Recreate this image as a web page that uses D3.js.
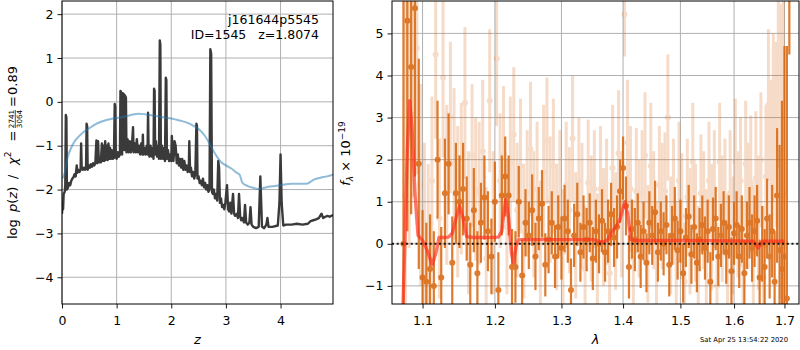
<!DOCTYPE html>
<html>
<head>
<meta charset="utf-8">
<script src="https://cdn.jsdelivr.net/npm/d3@7"></script>
<style>
  html, body { margin: 0; padding: 0; background: #fff; }
  svg { display: block; font-family: "DejaVu Sans", sans-serif; }
</style>
</head>
<body>
<svg id="fig" width="800" height="350"></svg>
<script>
// ---- redshift fit: log p(z) and chi^2 curve ----
const zPdf = [0.00,0.01,0.02,0.03,0.05,0.06,0.07,0.08,0.09,0.11,0.13,0.15,0.17,0.19,0.21,0.23,0.25,0.27,0.28,0.30,
  0.32,0.34,0.35,0.36,0.38,0.40,0.42,0.44,0.45,0.46,0.47,0.49,0.51,0.53,0.55,0.57,0.59,0.61,0.63,0.645,
  0.66,0.675,0.69,0.71,0.73,0.745,0.76,0.775,0.79,0.805,0.82,0.835,0.85,0.865,0.88,0.895,0.91,0.93,0.95,0.965,
  0.975,0.985,1.00,1.02,1.04,1.06,1.07,1.09,1.10,1.11,1.13,1.14,1.15,1.17,1.18,1.20,1.22,1.24,1.26,1.28,
  1.30,1.31,1.33,1.35,1.37,1.39,1.41,1.43,1.45,1.47,1.48,1.49,1.51,1.53,1.55,1.565,1.575,1.585,1.60,1.62,
  1.64,1.66,1.675,1.685,1.695,1.705,1.72,1.74,1.76,1.775,1.79,1.80,1.81,1.83,1.85,1.87,1.885,1.90,1.91,1.92,
  1.94,1.96,1.98,2.00,2.01,2.02,2.04,2.06,2.08,2.10,2.12,2.14,2.16,2.18,2.20,2.22,2.24,2.26,2.28,2.30,
  2.32,2.33,2.345,2.36,2.38,2.40,2.42,2.44,2.46,2.47,2.48,2.50,2.52,2.54,2.56,2.58,2.60,2.62,2.64,2.66,
  2.68,2.70,2.715,2.73,2.745,2.76,2.78,2.80,2.82,2.84,2.86,2.875,2.89,2.91,2.93,2.95,2.97,2.99,3.02,3.04,
  3.06,3.08,3.10,3.13,3.15,3.17,3.20,3.22,3.24,3.26,3.28,3.30,3.33,3.35,3.37,3.40,3.43,3.45,3.47,3.50,
  3.55,3.60,3.63,3.66,3.70,3.74,3.76,3.78,3.85,3.95,3.98,4.00,4.02,4.05,4.10,4.20,4.30,4.40,4.50,4.55,
  4.60,4.65,4.70,4.75,4.78,4.82,4.86,4.90,4.96];
const logPdf = [-2.55,-2.30,-2.45,-2.10,-2.05,-1.90,-0.30,-0.35,-2.00,-1.95,-1.85,-1.90,-1.80,-1.75,-1.72,-1.65,-1.70,-1.45,-1.62,-1.55,
  -1.60,-1.55,-0.95,-1.50,-1.55,-1.50,-1.55,-1.52,-0.50,-0.55,-1.55,-1.45,-1.50,-1.42,-1.48,-1.40,-1.45,-1.40,-0.88,-1.40,
  -0.90,-1.38,-1.30,-1.38,-0.95,-1.35,-1.00,-1.35,-0.90,-1.32,-1.00,-1.33,-0.95,-1.30,-1.05,-1.30,-1.10,-1.30,-1.28,-0.05,
  -0.10,-1.25,-1.30,-1.15,-1.25,-1.20,0.25,0.20,-1.20,0.20,0.18,-1.10,0.15,0.10,-1.15,-0.85,-1.15,-0.90,-1.15,-1.00,
  -0.58,-1.15,-0.95,-1.15,-0.85,-1.15,-1.00,-1.20,-0.95,-1.20,-0.75,-1.20,-1.05,-1.20,-1.00,-1.20,-0.25,-1.10,-1.25,-1.00,
  -1.25,-1.05,-1.30,0.30,0.25,-1.20,-0.90,-1.25,-1.00,-1.30,1.40,1.30,-1.30,-1.00,-1.30,-1.05,-1.35,0.55,0.50,-1.30,
  -1.10,-1.35,-1.20,-1.35,-0.78,-1.00,-1.35,-0.90,-1.00,-1.40,-1.20,-1.45,-1.30,-1.50,-1.30,-1.55,-1.35,-1.55,-1.45,-1.60,
  -1.55,-0.90,-1.60,-1.50,-1.70,-1.60,-1.75,-1.65,-0.50,-0.55,-1.75,-1.70,-1.85,-1.80,-1.90,-1.75,-1.95,-1.85,-2.00,-1.90,
  -2.05,-2.00,1.20,1.10,-2.05,-2.10,-2.00,-2.20,-2.10,-2.25,-1.35,-1.50,-2.30,-2.20,-2.40,-2.35,-2.45,-2.30,-1.90,-2.45,
  -2.50,-2.30,-2.55,-2.10,-2.55,-2.60,-2.55,-2.65,-2.10,-2.60,-2.70,-2.65,-2.75,-2.35,-2.75,-2.80,-2.75,-2.40,-2.80,-2.85,
  -2.88,-2.85,-1.70,-2.85,-2.88,-2.80,-2.65,-2.85,-2.85,-2.82,-2.30,-1.20,-2.30,-2.82,-2.80,-2.80,-2.78,-2.80,-2.78,-2.72,
  -2.70,-2.68,-2.65,-2.55,-2.65,-2.62,-2.60,-2.62,-2.58];

const zChi = [0.00,0.05,0.09,0.15,0.22,0.30,0.40,0.50,0.60,0.70,0.80,0.90,1.00,1.10,1.20,1.30,1.40,1.50,1.60,1.70,
  1.80,1.90,2.00,2.10,2.20,2.30,2.40,2.50,2.60,2.70,2.80,2.90,3.00,3.10,3.20,3.25,3.30,3.40,3.50,3.62,
  3.70,3.80,3.90,4.00,4.10,4.20,4.30,4.40,4.50,4.55,4.62,4.73,4.85,4.96];
const chiCurve = [-1.75,-1.62,-1.33,-1.10,-0.92,-0.80,-0.68,-0.60,-0.52,-0.46,-0.42,-0.39,-0.37,-0.35,-0.32,-0.29,-0.27,-0.28,-0.30,-0.32,
  -0.34,-0.36,-0.38,-0.41,-0.44,-0.48,-0.54,-0.62,-0.75,-0.95,-1.18,-1.36,-1.45,-1.52,-1.62,-1.66,-1.84,-1.92,-1.96,-1.99,
  -1.96,-1.93,-1.92,-1.90,-1.88,-1.87,-1.87,-1.87,-1.86,-1.82,-1.77,-1.73,-1.70,-1.66];

const zTicks = [0, 1, 2, 3, 4];
const pTicks = [-4, -3, -2, -1, 0, 1, 2];

// ---- 1D spectrum: two sets of extracted points and the best-fit model ----
const waveA = [1.075,1.080,1.085,1.090,1.095,1.100,1.105,1.110,1.115,1.120,
  1.125,1.130,1.135,1.140,1.145,1.150,1.155,1.160,1.165,1.170,
  1.175,1.180,1.185,1.190,1.195,1.200,1.205,1.210,1.215,1.220,
  1.225,1.230,1.235,1.240,1.245,1.250,1.255,1.260,1.265,1.270,
  1.275,1.280,1.285,1.290,1.295,1.300,1.305,1.310,1.315,1.320,
  1.325,1.330,1.335,1.340,1.345,1.350,1.355,1.360,1.365,1.370,
  1.375,1.380,1.385,1.390,1.395,1.400,1.405,1.410,1.415,1.420,
  1.425,1.430,1.435,1.440,1.445,1.450,1.455,1.460,1.465,1.470,
  1.475,1.480,1.485,1.490,1.495,1.500,1.505,1.510,1.515,1.520,
  1.525,1.530,1.535,1.540,1.545,1.550,1.555,1.560,1.565,1.570,
  1.575,1.580,1.585,1.590,1.595,1.600,1.605,1.610,1.615,1.620,
  1.625,1.630,1.635,1.640,1.645,1.650,1.655,1.660,1.665,1.670,
  1.675,1.680,1.685,1.690,1.695,1.700,1.705,1.710];
const fluxA = [0.0,5.3,4.2,5.6,1.9,-0.8,-0.9,-0.6,-1.0,2.0,
  -0.8,1.2,1.9,-0.45,1.2,1.0,1.3,0.6,-0.5,0.8,
  -0.7,0.5,1.1,0.3,-0.3,1.0,-1.1,1.15,1.6,1.15,
  -0.55,-0.55,1.0,-0.75,0.5,0.2,0.8,-0.3,0.6,0.95,
  -0.5,0.1,0.5,-0.3,0.4,-0.1,0.6,0.3,-1.1,0.2,
  0.7,-0.2,0.4,0.1,0.5,-0.35,0.3,0.0,0.55,-0.2,
  0.3,0.7,0.15,0.4,1.25,1.8,0.9,-0.55,0.35,0.1,
  0.5,-0.3,0.3,-0.45,0.5,0.2,0.75,-0.2,0.3,0.0,
  0.45,-0.5,0.2,0.6,-0.15,0.3,-0.7,0.15,0.65,-0.25,
  0.4,-0.45,0.1,0.45,-0.1,0.3,-0.9,0.35,0.6,-0.3,
  0.2,0.5,-0.2,0.4,-0.65,0.25,0.45,-0.3,0.35,-0.7,
  0.2,0.5,-0.1,0.3,0.55,-0.8,0.0,-0.55,0.6,-0.3,
  0.3,-0.9,1.15,-0.15,-0.6,-0.3,-1.3,6.5];
const errA = [6.0,5.0,3.5,4.0,2.5,1.6,1.4,1.3,1.3,1.4,
  1.2,1.3,1.2,1.1,1.2,1.1,1.1,1.0,1.0,1.0,
  1.0,0.95,1.0,0.95,0.9,0.95,0.9,0.95,0.95,0.95,
  0.9,0.85,0.85,0.85,0.8,0.8,0.85,0.8,0.75,0.8,
  0.75,0.8,0.75,0.75,0.75,0.75,0.8,0.75,0.75,0.75,
  0.75,0.7,0.75,0.75,0.7,0.75,0.75,0.7,0.75,0.7,
  0.75,0.75,0.7,0.75,0.75,0.75,0.7,0.75,0.7,0.75,
  0.7,0.75,0.7,0.7,0.75,0.7,0.75,0.7,0.7,0.75,
  0.7,0.75,0.7,0.75,0.7,0.75,0.7,0.7,0.75,0.7,
  0.75,0.7,0.75,0.7,0.75,0.75,0.7,0.75,0.75,0.7,
  0.75,0.75,0.75,0.75,0.8,0.75,0.8,0.75,0.8,0.8,
  0.8,0.85,0.8,0.85,0.85,0.9,0.9,0.9,0.95,1.0,
  1.1,1.2,1.6,2.5,4.0,5.0,6.0,2.0];

const waveB = [1.0775,1.0825,1.0875,1.0925,1.0975,1.1025,1.1075,1.1125,1.1175,1.1225,
  1.1275,1.1325,1.1375,1.1425,1.1475,1.1525,1.1575,1.1625,1.1675,1.1725,
  1.1775,1.1825,1.1875,1.1925,1.1975,1.2025,1.2075,1.2125,1.2175,1.2225,
  1.2275,1.2325,1.2375,1.2425,1.2475,1.2525,1.2575,1.2625,1.2675,1.2725,
  1.2775,1.2825,1.2875,1.2925,1.2975,1.3025,1.3075,1.3125,1.3175,1.3225,
  1.3275,1.3325,1.3375,1.3425,1.3475,1.3525,1.3575,1.3625,1.3675,1.3725,
  1.3775,1.3825,1.3875,1.3925,1.3975,1.4025,1.4075,1.4125,1.4175,1.4225,
  1.4275,1.4325,1.4375,1.4425,1.4475,1.4525,1.4575,1.4625,1.4675,1.4725,
  1.4775,1.4825,1.4875,1.4925,1.4975,1.5025,1.5075,1.5125,1.5175,1.5225,
  1.5275,1.5325,1.5375,1.5425,1.5475,1.5525,1.5575,1.5625,1.5675,1.5725,
  1.5775,1.5825,1.5875,1.5925,1.5975,1.6025,1.6075,1.6125,1.6175,1.6225,
  1.6275,1.6325,1.6375,1.6425,1.6475,1.6525,1.6575,1.6625,1.6675,1.6725,
  1.6775,1.6825,1.6875,1.6925,1.6975];
const fluxB = [1.15,3.9,4.6,4.65,1.4,0.2,-0.2,1.5,4.5,0.6,
  3.95,1.4,3.0,1.9,1.0,1.55,3.35,0.5,2.1,1.3,
  1.2,2.2,-0.35,3.4,0.5,4.4,1.5,2.15,0.4,1.9,
  2.6,0.8,1.85,0.3,1.2,2.25,0.7,1.3,0.0,1.7,
  2.45,1.05,1.85,0.4,1.2,-0.2,1.4,0.8,2.5,0.2,
  1.5,0.9,-0.6,1.45,0.6,1.3,-0.3,1.3,0.4,1.0,
  -0.7,1.8,0.3,2.15,0.7,5.45,2.4,1.3,-0.35,1.25,
  0.6,1.2,2.1,0.0,1.85,0.8,-0.5,1.4,0.9,1.25,
  3.0,0.2,1.0,-0.4,1.5,0.65,-0.9,1.1,0.3,1.95,
  0.5,-0.6,1.2,0.8,-0.2,1.5,0.4,1.3,-1.0,1.95,
  0.6,1.1,-0.3,1.2,0.2,1.95,0.7,1.5,-0.5,1.9,
  0.9,1.45,-0.2,1.55,0.5,2.0,-0.8,1.6,3.3,2.0,
  3.0,2.6,4.4,2.2,1.2];
const errB = [5.0,4.0,3.5,3.0,2.4,2.2,2.1,2.0,2.0,1.9,
  1.9,1.9,1.8,1.8,1.8,1.8,1.8,1.7,1.7,1.7,
  1.7,1.7,1.7,1.7,1.7,1.6,1.6,1.6,1.6,1.6,
  1.6,1.6,1.6,1.6,1.5,1.6,1.5,1.6,1.5,1.6,
  1.5,1.5,1.6,1.5,1.5,1.5,1.5,1.5,1.5,1.5,
  1.5,1.5,1.5,1.5,1.5,1.4,1.5,1.5,1.4,1.5,
  1.5,1.5,1.4,1.5,1.5,1.0,1.5,1.5,1.4,1.5,
  1.4,1.5,1.5,1.4,1.5,1.4,1.5,1.4,1.5,1.4,
  1.5,1.4,1.5,1.4,1.4,1.5,1.4,1.4,1.5,1.4,
  1.4,1.5,1.4,1.4,1.5,1.4,1.5,1.4,1.5,1.4,
  1.5,1.4,1.5,1.5,1.4,1.5,1.5,1.5,1.5,1.5,
  1.5,1.6,1.6,1.6,1.6,1.6,1.7,1.7,1.8,1.9,
  2.0,2.2,2.6,3.5,5.0];

const waveModel = [1.072,1.076,1.080,1.083,1.086,1.090,1.094,1.100,1.106,1.113,1.118,1.122,1.128,1.135,1.140,1.145,1.150,1.155,1.160,1.170,
  1.190,1.205,1.210,1.213,1.216,1.220,1.224,1.227,1.231,1.235,1.250,1.300,1.350,1.362,1.368,1.375,1.382,1.388,1.394,1.398,
  1.403,1.408,1.413,1.420,1.500,1.600,1.638,1.644,1.647,1.651,1.656,1.680,1.700];
const fluxModel = [-3.0,-0.5,2.2,3.4,2.8,1.2,0.2,0.08,-0.15,-0.5,-0.2,0.15,0.15,0.16,0.25,0.6,0.9,0.6,0.17,0.15,
  0.15,0.16,0.3,0.75,1.05,0.6,-0.2,-0.45,-0.05,0.1,0.1,0.1,0.1,0.05,0.05,0.1,0.3,0.4,0.55,0.75,
  1.0,0.7,0.1,0.08,0.08,0.07,0.06,-0.05,-0.1,-0.02,0.06,0.06,0.06];

const waveTicks = [1.1, 1.2, 1.3, 1.4, 1.5, 1.6, 1.7];
const fluxTicks = [-1, 0, 1, 2, 3, 4, 5];

// ---- layout ----
const svg = d3.select("#fig");
const P1 = {x0: 62, x1: 333, y0: 1, y1: 304};
const P2 = {x0: 392, x1: 799, y0: 1, y1: 304};
const FS = 12.5;   // tick labels and annotation
const LS = 13;     // axis labels
const gridColor = "#b0b0b0";
const minusFmt = v => (v < 0 ? "\u2212" + Math.abs(v) : String(v));

function drawGrid(P, x, y, xt, yt, clipId) {
  const g = svg.append("g");
  g.append("g").selectAll("line").data(xt).join("line")
    .attr("x1", d => x(d)).attr("x2", d => x(d)).attr("y1", P.y0).attr("y2", P.y1)
    .attr("stroke", gridColor).attr("stroke-width", 1);
  g.append("g").selectAll("line").data(yt).join("line")
    .attr("y1", d => y(d)).attr("y2", d => y(d)).attr("x1", P.x0).attr("x2", P.x1)
    .attr("stroke", gridColor).attr("stroke-width", 1);
  svg.append("clipPath").attr("id", clipId).append("rect")
    .attr("x", P.x0).attr("y", P.y0).attr("width", P.x1 - P.x0).attr("height", P.y1 - P.y0);
}

function drawFrame(P, x, y, xt, yt, xfmt) {
  const ax = svg.append("g").attr("transform", `translate(0,${P.y1})`)
    .call(d3.axisBottom(x).tickValues(xt).tickSize(4.5).tickPadding(8).tickFormat(xfmt));
  const ay = svg.append("g").attr("transform", `translate(${P.x0},0)`)
    .call(d3.axisLeft(y).tickValues(yt).tickSize(4.5).tickPadding(4).tickFormat(minusFmt));
  [ax, ay].forEach(a => {
    a.select(".domain").remove();
    a.selectAll("text").attr("font-size", FS).attr("fill", "#000").attr("font-family", "DejaVu Sans");
    a.selectAll("line").attr("stroke", "#000").attr("stroke-width", 0.9);
  });
  svg.append("rect").attr("x", P.x0).attr("y", P.y0).attr("width", P.x1 - P.x0).attr("height", P.y1 - P.y0)
    .attr("fill", "none").attr("stroke", "#000").attr("stroke-width", 1);
}

// ---- left panel ----
const xz = d3.scaleLinear().domain([0, 4.96]).range([P1.x0, P1.x1]);
const yp = d3.scaleLinear().domain([-4.61, 2.30]).range([P1.y1, P1.y0]);
drawGrid(P1, xz, yp, zTicks, pTicks, "clipL");

const pdfPts = zPdf.map((z, i) => [z, logPdf[i]]);
const chiPts = zChi.map((z, i) => [z, chiCurve[i]]);
const lineL = d3.line().x(d => xz(d[0])).y(d => yp(d[1]));
const gL = svg.append("g").attr("clip-path", "url(#clipL)");
gL.append("path").attr("d", lineL(pdfPts)).attr("fill", "none")
  .attr("stroke", "#3a3a3a").attr("stroke-width", 2.4).attr("stroke-linejoin", "round");
gL.append("path").attr("d", lineL.curve(d3.curveMonotoneX)(chiPts)).attr("fill", "none")
  .attr("stroke", "#1f77b4").attr("stroke-opacity", 0.5).attr("stroke-width", 2);

drawFrame(P1, xz, yp, zTicks, pTicks, d => String(d));

svg.append("text").attr("x", 319).attr("y", 24).attr("text-anchor", "end")
  .attr("font-size", FS).text("j161644p5545");
svg.append("text").attr("x", 319).attr("y", 39).attr("text-anchor", "end")
  .attr("font-size", FS).attr("xml:space", "preserve").text("ID=1545   z=1.8074");

svg.append("text").attr("x", (P1.x0 + P1.x1) / 2).attr("y", 344).attr("text-anchor", "middle")
  .attr("font-size", LS).attr("font-style", "italic").text("z");

// rotated y label: log p(z) / chi^2 = 2741/3064 = 0.89
(function () {
  const g = svg.append("g").attr("transform", "translate(16.5,239) rotate(-90)");
  const part = (x, txt, italic) => g.append("text").attr("x", x).attr("y", 0)
    .attr("font-size", LS).attr("font-style", italic ? "italic" : "normal").text(txt);
  part(0, "log");
  const pz = g.append("text").attr("x", 27).attr("y", 0).attr("font-size", LS);
  pz.append("tspan").attr("font-style", "italic").text("p");
  pz.append("tspan").text("(");
  pz.append("tspan").attr("font-style", "italic").text("z");
  pz.append("tspan").text(")");
  part(60, "/");
  const chi = g.append("text").attr("x", 74).attr("y", 0).attr("font-size", LS);
  chi.append("tspan").attr("font-style", "italic").text("\u03c7");
  chi.append("tspan").attr("font-size", 9).attr("dy", -5.5).text("2");
  part(97.5, "=");
  g.append("text").attr("x", 120).attr("y", -2.4).attr("font-size", 7.2).attr("text-anchor", "middle").text("2741");
  g.append("text").attr("x", 120).attr("y", 5.2).attr("font-size", 7.2).attr("text-anchor", "middle").text("3064");
  g.append("line").attr("x1", 111).attr("x2", 129).attr("y1", -1.2).attr("y2", -1.2)
    .attr("stroke", "#000").attr("stroke-width", 0.7);
  part(132, "=");
  part(144, "0.89");
})();

// ---- right panel ----
const xw = d3.scaleLog().domain([1.0603, 1.730]).range([P2.x0, P2.x1]);
const yf = d3.scaleLinear().domain([-1.43, 5.77]).range([P2.y1, P2.y0]);
drawGrid(P2, xw, yf, waveTicks, fluxTicks, "clipR");

const gR = svg.append("g").attr("clip-path", "url(#clipR)");
const orange = "#d9650b";

function drawSpec(wave, flux, err, opacity, barW, r) {
  const g = gR.append("g").attr("opacity", opacity);
  const data = wave.map((w, i) => ({w, f: flux[i], e: err[i]}));
  g.selectAll("line").data(data).join("line")
    .attr("x1", d => xw(d.w)).attr("x2", d => xw(d.w))
    .attr("y1", d => yf(d.f - d.e)).attr("y2", d => yf(d.f + d.e))
    .attr("stroke", orange).attr("stroke-width", barW);
  g.selectAll("circle").data(data).join("circle")
    .attr("cx", d => xw(d.w)).attr("cy", d => yf(d.f)).attr("r", r).attr("fill", orange);
}
drawSpec(waveB, fluxB, errB, 0.22, 3, 3);
drawSpec(waveA, fluxA, errA, 0.85, 2.2, 3);

const modelPts = waveModel.map((w, i) => [w, fluxModel[i]]);
gR.append("path").attr("d", d3.line().x(d => xw(d[0])).y(d => yf(d[1]))(modelPts))
  .attr("fill", "none").attr("stroke", "#ff2a1a").attr("stroke-opacity", 0.65)
  .attr("stroke-width", 3.4).attr("stroke-linejoin", "round");

gR.append("line").attr("x1", P2.x0).attr("x2", P2.x1).attr("y1", yf(0)).attr("y2", yf(0))
  .attr("stroke", "#000").attr("stroke-width", 2).attr("stroke-dasharray", "2,2.7").attr("opacity", 0.85);

drawFrame(P2, xw, yf, waveTicks, fluxTicks, d3.format(".1f"));

svg.append("text").attr("x", (P2.x0 + P2.x1) / 2).attr("y", 344).attr("text-anchor", "middle")
  .attr("font-size", LS).attr("font-style", "italic").text("\u03bb");

(function () {
  const t = svg.append("text").attr("font-size", LS).attr("text-anchor", "middle")
    .attr("transform", `translate(350,153.5) rotate(-90)`);
  t.append("tspan").attr("font-style", "italic").text("f");
  t.append("tspan").attr("font-size", 9).attr("dy", 3).attr("font-style", "italic").text("\u03bb");
  t.append("tspan").attr("dy", -3).text(" \u00d7 10");
  t.append("tspan").attr("font-size", 9).attr("dy", -5.5).text("\u221219");
})();

svg.append("text").attr("x", 788).attr("y", 342).attr("text-anchor", "end")
  .attr("font-size", 6.8).text("Sat Apr 25 13:54:22 2020");
</script>
</body>
</html>
